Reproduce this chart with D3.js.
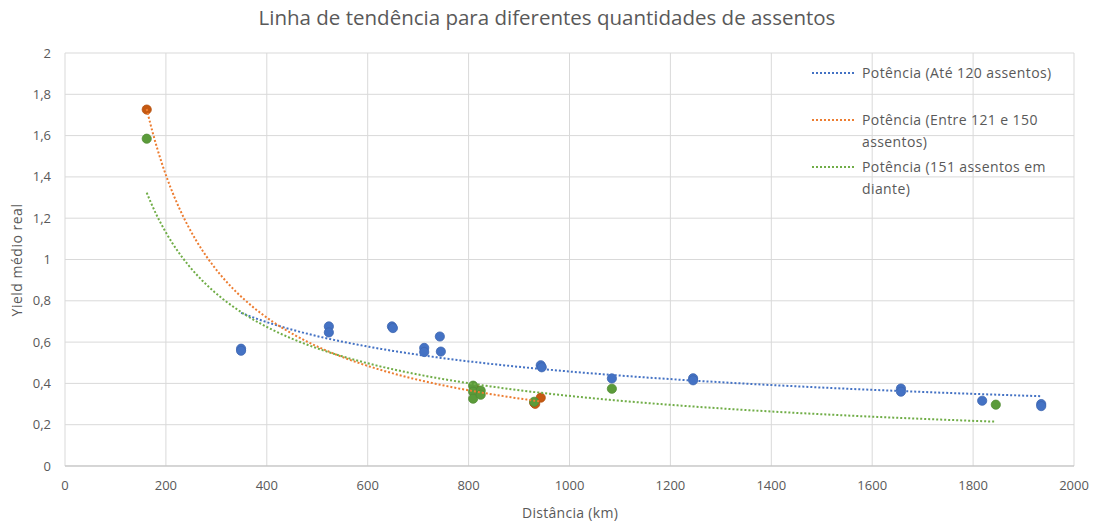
<!DOCTYPE html>
<html>
<head>
<meta charset="utf-8">
<script src="https://cdn.jsdelivr.net/npm/d3@7"></script>
<style>
  body { margin: 0; background: #fff; }
  text { font-family: "Open Sans", "Noto Sans", sans-serif; fill: #595959; }
</style>
</head>
<body>
<svg id="chart" width="1095" height="521"></svg>
<script>
// Route samples: distance (km) and real average yield, grouped by aircraft size
const seriesNames = ["Até 120 assentos", "Entre 121 e 150 assentos", "151 assentos em diante"];

const smallX = [349, 349, 523, 523, 648, 650, 712, 712, 743, 745, 943, 945, 1084, 1245, 1245, 1657, 1657, 1818, 1935, 1935];
const smallY = [0.568, 0.558, 0.676, 0.647, 0.676, 0.668, 0.572, 0.552, 0.627, 0.554, 0.488, 0.478, 0.424, 0.425, 0.415, 0.375, 0.360, 0.316, 0.300, 0.290];

const midX = [162, 815, 930, 932, 943];
const midY = [1.726, 0.370, 0.306, 0.301, 0.331];

const largeX = [162, 809, 809, 809, 824, 824, 930, 1084, 1845];
const largeY = [1.585, 0.389, 0.360, 0.326, 0.365, 0.345, 0.311, 0.374, 0.297];

const xTicks = [0, 200, 400, 600, 800, 1000, 1200, 1400, 1600, 1800, 2000];
const yTicks = [0, 0.2, 0.4, 0.6, 0.8, 1, 1.2, 1.4, 1.6, 1.8, 2];

const markerColors = ["#4472C4", "#C65911", "#5B9B3A"];
const trendColors = ["#4472C4", "#ED7D31", "#70AD47"];

const svg = d3.select("#chart");
const margin = { left: 65, right: 21, top: 53, bottom: 55 };
const W = 1095, H = 521;

const x = d3.scaleLinear().domain([0, 2000]).range([margin.left, W - margin.right]);
const y = d3.scaleLinear().domain([0, 2]).range([H - margin.bottom, margin.top]);

// gridlines
svg.append("g").selectAll("line.h").data(yTicks).join("line")
  .attr("x1", x(0)).attr("x2", x(2000))
  .attr("y1", d => y(d)).attr("y2", d => y(d))
  .attr("stroke", "#D9D9D9").attr("stroke-width", 1);
svg.append("g").selectAll("line.v").data(xTicks).join("line")
  .attr("x1", d => x(d)).attr("x2", d => x(d))
  .attr("y1", y(0)).attr("y2", y(2))
  .attr("stroke", "#D9D9D9").attr("stroke-width", 1);
svg.append("line")
  .attr("x1", x(0)).attr("x2", x(2000)).attr("y1", y(0)).attr("y2", y(0))
  .attr("stroke", "#BFBFBF").attr("stroke-width", 1);

// tick labels
const fmt = d => String(d).replace(".", ",");
svg.append("g").selectAll("text").data(yTicks).join("text")
  .attr("x", 51).attr("y", d => y(d)).attr("dy", "0.35em")
  .attr("text-anchor", "end").attr("font-size", 13).text(fmt);
svg.append("g").selectAll("text").data(xTicks).join("text")
  .attr("x", d => x(d)).attr("y", 485).attr("dy", "0.35em")
  .attr("text-anchor", "middle").attr("font-size", 13).text(d => d);

// titles
svg.append("text").attr("x", 547).attr("y", 18).attr("dy", "0.35em")
  .attr("text-anchor", "middle").attr("font-size", 20.5)
  .text("Linha de tendência para diferentes quantidades de assentos");
svg.append("text").attr("x", 570).attr("y", 513).attr("dy", "0.35em")
  .attr("text-anchor", "middle").attr("font-size", 14).attr("letter-spacing", 0.3).text("Distância (km)");
svg.append("text").attr("transform", "translate(17,260) rotate(-90)").attr("dy", "0.35em")
  .attr("text-anchor", "middle").attr("font-size", 14).attr("letter-spacing", 0.5).text("Yield médio real");

// power trendline y = a * x^b fitted in log-log space
function powerFit(xs, ys) {
  const lx = xs.map(Math.log), ly = ys.map(Math.log);
  const mx = d3.mean(lx), my = d3.mean(ly);
  const b = d3.sum(lx, (v, i) => (v - mx) * (ly[i] - my)) / d3.sum(lx, v => (v - mx) ** 2);
  const a = Math.exp(my - b * mx);
  return { a, b, x0: d3.min(xs), x1: d3.max(xs) };
}

const groups = [[smallX, smallY], [midX, midY], [largeX, largeY]];
const line = d3.line().x(d => x(d[0])).y(d => y(d[1]));

// points
groups.forEach(([xs, ys], k) => {
  svg.append("g").selectAll("circle").data(xs.map((v, i) => [v, ys[i]])).join("circle")
    .attr("cx", d => x(d[0])).attr("cy", d => y(d[1])).attr("r", 4.6)
    .attr("fill", markerColors[k]).attr("stroke", d3.color(markerColors[k]).darker(0.3))
    .attr("stroke-width", 0.8);
});

// trendlines
groups.forEach(([xs, ys], k) => {
  const f = powerFit(xs, ys);
  const pts = d3.range(0, 201).map(i => {
    const xv = f.x0 + (f.x1 - f.x0) * i / 200;
    return [xv, f.a * Math.pow(xv, f.b)];
  });
  svg.append("path").datum(pts).attr("d", line)
    .attr("fill", "none").attr("stroke", trendColors[k]).attr("stroke-width", 2)
    .attr("stroke-dasharray", "2,2");
});

// legend
const legend = [
  { y: 73, lines: ["Potência (Até 120 assentos)"] },
  { y: 120, lines: ["Potência (Entre 121 e 150", "assentos)"] },
  { y: 167, lines: ["Potência (151 assentos em", "diante)"] }
];
legend.forEach((d, k) => {
  svg.append("line").attr("x1", 812).attr("x2", 855).attr("y1", d.y).attr("y2", d.y)
    .attr("stroke", trendColors[k]).attr("stroke-width", 2).attr("stroke-dasharray", "2,2");
  d.lines.forEach((t, j) => {
    svg.append("text").attr("x", 862).attr("y", d.y + j * 22).attr("dy", "0.35em")
      .attr("font-size", 14).attr("letter-spacing", 0.4).text(t);
  });
});
</script>
</body>
</html>
